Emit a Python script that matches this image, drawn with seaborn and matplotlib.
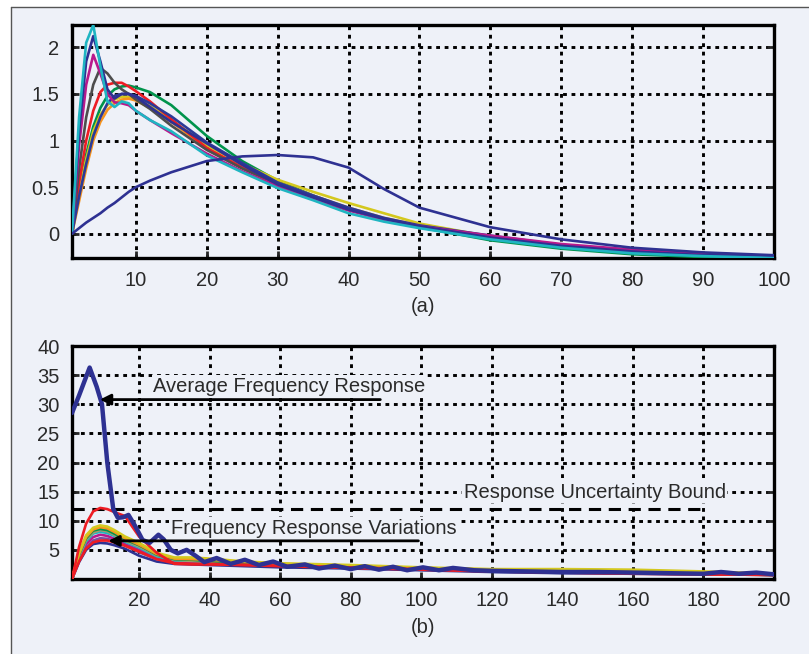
import numpy as np
import pandas as pd
import matplotlib
matplotlib.use("Agg")
import matplotlib.pyplot as plt
from matplotlib.patches import Rectangle
from matplotlib.lines import Line2D
import seaborn as sns

# =========================
# Data, panel (a)
# =========================
xa = [1, 2, 3, 4, 5, 6, 7, 8, 9, 10, 12, 15, 20, 25, 30, 35, 40, 45, 50, 60, 70, 80, 90, 100]

a_curves = {
    "green":   [0, 0.45, 0.85, 1.15, 1.35, 1.48, 1.55, 1.58, 1.59, 1.57, 1.52, 1.38, 1.05, 0.78, 0.57, 0.41, 0.27, 0.16, 0.07, -0.07, -0.16, -0.22, -0.25, -0.26],
    "yellow":  [0, 0.45, 0.80, 1.10, 1.28, 1.38, 1.44, 1.47, 1.47, 1.45, 1.37, 1.22, 0.95, 0.75, 0.58, 0.45, 0.33, 0.22, 0.11, -0.03, -0.13, -0.19, -0.23, -0.25],
    "orange":  [0, 0.35, 0.70, 1.00, 1.20, 1.33, 1.40, 1.44, 1.45, 1.43, 1.35, 1.20, 0.92, 0.72, 0.55, 0.41, 0.28, 0.17, 0.09, -0.03, -0.12, -0.19, -0.23, -0.25],
    "red":     [0, 0.55, 1.00, 1.32, 1.52, 1.60, 1.62, 1.62, 1.58, 1.53, 1.42, 1.23, 0.92, 0.71, 0.54, 0.39, 0.26, 0.16, 0.08, -0.04, -0.13, -0.19, -0.23, -0.25],
    "gray":    [0, 0.70, 1.25, 1.60, 1.78, 1.72, 1.62, 1.55, 1.50, 1.44, 1.34, 1.16, 0.90, 0.70, 0.53, 0.39, 0.26, 0.16, 0.08, -0.04, -0.13, -0.19, -0.23, -0.25],
    "navy2":   [0, 0.40, 0.75, 1.05, 1.25, 1.40, 1.48, 1.50, 1.50, 1.48, 1.40, 1.26, 0.98, 0.76, 0.55, 0.41, 0.28, 0.17, 0.09, -0.02, -0.12, -0.18, -0.22, -0.24],
    "magenta": [0, 0.95, 1.60, 1.92, 1.72, 1.50, 1.41, 1.40, 1.38, 1.32, 1.22, 1.08, 0.86, 0.67, 0.51, 0.37, 0.25, 0.15, 0.08, -0.02, -0.11, -0.17, -0.22, -0.25],
    "navy":    [0, 1.10, 1.85, 2.12, 1.85, 1.55, 1.45, 1.50, 1.50, 1.47, 1.36, 1.20, 0.97, 0.74, 0.53, 0.39, 0.26, 0.16, 0.08, -0.04, -0.13, -0.19, -0.23, -0.24],
    "cyan":    [0, 1.25, 2.05, 2.24, 1.80, 1.42, 1.36, 1.42, 1.40, 1.32, 1.22, 1.10, 0.84, 0.66, 0.49, 0.36, 0.22, 0.13, 0.06, -0.06, -0.15, -0.21, -0.24, -0.26],
    "broad":   [0, 0.06, 0.12, 0.17, 0.22, 0.28, 0.33, 0.39, 0.45, 0.50, 0.57, 0.66, 0.78, 0.83, 0.845, 0.82, 0.71, 0.48, 0.28, 0.07, -0.06, -0.15, -0.20, -0.23],
}

# =========================
# Data, panel (b)
# =========================
xb = [1, 3, 5, 7, 9, 11, 13, 16, 20, 25, 30, 35, 40, 50, 60, 80, 100, 120, 140, 160, 180, 200]

b_curves = {
    "blue_low":  [0, 2.9, 5.0, 6.0, 6.2, 6.1, 5.8, 5.2, 4.0, 3.0, 2.6, 2.5, 2.4, 2.2, 2.0, 1.8, 1.5, 1.2, 1.0, 0.9, 0.8, 0.7],
    "purple":    [0, 3.2, 5.4, 6.6, 7.0, 6.9, 6.5, 5.8, 4.6, 3.4, 2.9, 2.8, 2.7, 2.5, 2.3, 2.0, 1.7, 1.4, 1.2, 1.0, 0.9, 0.7],
    "magenta":   [0, 3.6, 6.0, 7.2, 7.6, 7.4, 6.9, 6.0, 5.0, 3.6, 3.0, 2.9, 2.8, 2.6, 2.3, 2.0, 1.7, 1.4, 1.2, 1.0, 0.9, 0.7],
    "cyan":      [0, 3.9, 6.5, 7.8, 8.1, 7.9, 7.4, 6.4, 5.4, 3.9, 3.2, 3.1, 2.9, 2.7, 2.4, 2.1, 1.8, 1.5, 1.3, 1.2, 1.0, 0.8],
    "khaki":     [0, 4.0, 6.8, 8.0, 8.4, 8.2, 7.6, 6.6, 5.6, 4.1, 3.3, 3.1, 3.0, 2.7, 2.4, 2.1, 1.7, 1.4, 1.2, 1.0, 0.8, 0.7],
    "green":     [0, 4.2, 7.0, 8.3, 8.6, 8.4, 7.8, 6.8, 5.8, 4.2, 3.4, 3.3, 3.1, 2.8, 2.5, 2.2, 1.8, 1.5, 1.3, 1.1, 0.9, 0.7],
    "orange":    [0, 4.3, 7.2, 8.5, 8.9, 8.7, 8.1, 7.0, 5.9, 4.3, 3.5, 3.4, 3.3, 2.9, 2.6, 2.3, 1.9, 1.6, 1.5, 1.4, 1.1, 0.8],
    "yellow":    [0, 4.5, 7.5, 8.8, 9.2, 9.0, 8.4, 7.3, 6.2, 4.5, 3.7, 3.7, 3.5, 3.0, 2.7, 2.4, 2.0, 1.7, 1.7, 1.6, 1.3, 0.9],
    "red_low":   [0, 3.0, 5.2, 6.3, 6.6, 6.6, 6.3, 5.7, 4.7, 3.4, 2.7, 2.6, 2.6, 2.4, 2.2, 1.9, 1.6, 1.3, 1.1, 0.9, 0.8, 0.7],
    "red_high":  [0, 5.5, 9.5, 11.6, 12.2, 12.0, 11.5, 10.8, 7.3, 4.5, 2.6, 2.5, 2.5, 2.4, 2.3, 2.0, 1.7, 1.4, 1.2, 1.0, 0.8, 0.7],
}

x_avg = [1, 3, 6, 8, 9.5, 11, 12.7, 14, 15.5, 17, 19, 21, 23, 25.5, 27, 29, 31, 33.5, 36, 38.5,
         42, 46, 50, 54, 58, 62, 67, 71, 75.5, 80, 84, 88, 92, 96, 100.5, 105, 109, 115, 120,
         130, 140, 150, 160, 170, 180, 185, 190, 195, 200]
y_avg = [28.5, 31.5, 36.3, 33.0, 30.0, 20.0, 12.0, 10.5, 10.6, 11.0, 9.0, 6.7, 6.2, 7.6, 6.8, 5.0, 4.4, 5.0, 4.0, 2.9,
         3.6, 2.6, 3.3, 2.4, 3.0, 2.1, 2.5, 1.8, 2.3, 1.7, 2.2, 1.6, 2.1, 1.5, 2.0, 1.5, 1.9, 1.5, 1.4,
         1.3, 1.2, 1.2, 1.1, 1.0, 0.9, 1.2, 0.9, 1.1, 0.8]

bound_value = 12
bound_end = 180

palette = {
    "navy": "#2e3192", "navy2": "#2b3a98", "broad": "#2e3192", "blue_low": "#2e3192",
    "cyan": "#1fb5c2", "magenta": "#b8198c", "gray": "#4d4d4d", "red": "#ed1c24",
    "red_low": "#ed1c24", "red_high": "#ed1c24", "green": "#00934b", "yellow": "#d4c81e",
    "orange": "#f7941d", "khaki": "#a89a6a", "purple": "#7b4fa0",
}

bg = "#eef1f8"

sns.set_style("ticks")
plt.rcParams["font.family"] = ["Liberation Sans", "DejaVu Sans"]

fig = plt.figure(figsize=(8.09, 6.54), dpi=100, facecolor="white")
fig.patches.append(Rectangle((11 / 809, 0), 1 - 11 / 809, 1 - 7 / 654, transform=fig.transFigure,
                             facecolor=bg, edgecolor="none", zorder=-5))
fig.lines.append(Line2D([11 / 809, 11 / 809], [0, 1 - 7 / 654], transform=fig.transFigure, color="#555555", lw=1))
fig.lines.append(Line2D([11 / 809, 1], [1 - 7 / 654, 1 - 7 / 654], transform=fig.transFigure, color="#555555", lw=1))

ax1 = fig.add_axes([72 / 809, 1 - 258 / 654, 702 / 809, 233 / 654])
ax2 = fig.add_axes([72 / 809, 1 - 579 / 654, 702 / 809, 233 / 654])


def style_axes(ax):
    ax.set_facecolor(bg)
    for s in ax.spines.values():
        s.set_linewidth(2.4)
        s.set_color("black")
    ax.grid(True, color="black", linestyle=(0, (1.3, 1.6)), linewidth=2.1)
    ax.set_axisbelow(True)
    ax.tick_params(direction="in", length=5, width=2, labelsize=14.5, pad=9,
                   labelcolor="#2a2a2a", top=False, right=True)
    ax.set_xlabel("")
    ax.set_ylabel("")


# =========================
# (a)
# =========================
df_a = pd.DataFrame([(x, y, k) for k, ys in a_curves.items() for x, y in zip(xa, ys)],
                    columns=["x", "y", "curve"])
sns.lineplot(data=df_a, x="x", y="y", hue="curve", palette=palette, estimator=None,
             legend=False, linewidth=1.9, ax=ax1, zorder=3)
ax1.set_xlim(1, 100)
ax1.set_ylim(-0.26, 2.24)
ax1.set_xticks([10, 20, 30, 40, 50, 60, 70, 80, 90, 100])
ax1.set_yticks([0, 0.5, 1, 1.5, 2])
ax1.set_yticklabels(["0", "0.5", "1", "1.5", "2"])
style_axes(ax1)
ax1.text(0.5, -0.21, "(a)", transform=ax1.transAxes, ha="center", va="center",
         fontsize=14.5, color="#2a2a2a")

# =========================
# (b)
# =========================
df_b = pd.DataFrame([(x, y, k) for k, ys in b_curves.items() for x, y in zip(xb, ys)],
                    columns=["x", "y", "curve"])
sns.lineplot(data=df_b, x="x", y="y", hue="curve", palette=palette, estimator=None,
             legend=False, linewidth=1.9, ax=ax2, zorder=3)
sns.lineplot(x=x_avg, y=y_avg, color="#2e3192", linewidth=3.2, ax=ax2, zorder=4)
ax2.hlines(bound_value, 1, bound_end, colors="black", linestyles=(0, (4, 2.5)), linewidth=2.2, zorder=2)
ax2.set_xlim(1, 200)
ax2.set_ylim(0, 40)
ax2.set_xticks([20, 40, 60, 80, 100, 120, 140, 160, 180, 200])
ax2.set_yticks([5, 10, 15, 20, 25, 30, 35, 40])
style_axes(ax2)

txt_kw = dict(fontsize=14.5, color="#2a2a2a", va="center", ha="left", zorder=5,
              bbox=dict(facecolor=bg, edgecolor="none", pad=1))
ax2.text(24, 33.1, "Average Frequency Response", **txt_kw)
ax2.text(112, 14.9, "Response Uncertainty Bound", **txt_kw)
ax2.text(29, 8.75, "Frequency Response Variations", **txt_kw)

arrow_kw = dict(arrowstyle="-|>", color="black", lw=2, mutation_scale=16, shrinkA=0, shrinkB=0)
ax2.annotate("", xy=(8.9, 30.8), xytext=(88.4, 30.8), arrowprops=arrow_kw, zorder=6)
ax2.annotate("", xy=(11.3, 6.55), xytext=(99.2, 6.55), arrowprops=arrow_kw, zorder=6)

ax2.text(0.5, -0.21, "(b)", transform=ax2.transAxes, ha="center", va="center",
         fontsize=14.5, color="#2a2a2a")

fig.savefig("out.png", dpi=100, facecolor=fig.get_facecolor())
plt.close(fig)
